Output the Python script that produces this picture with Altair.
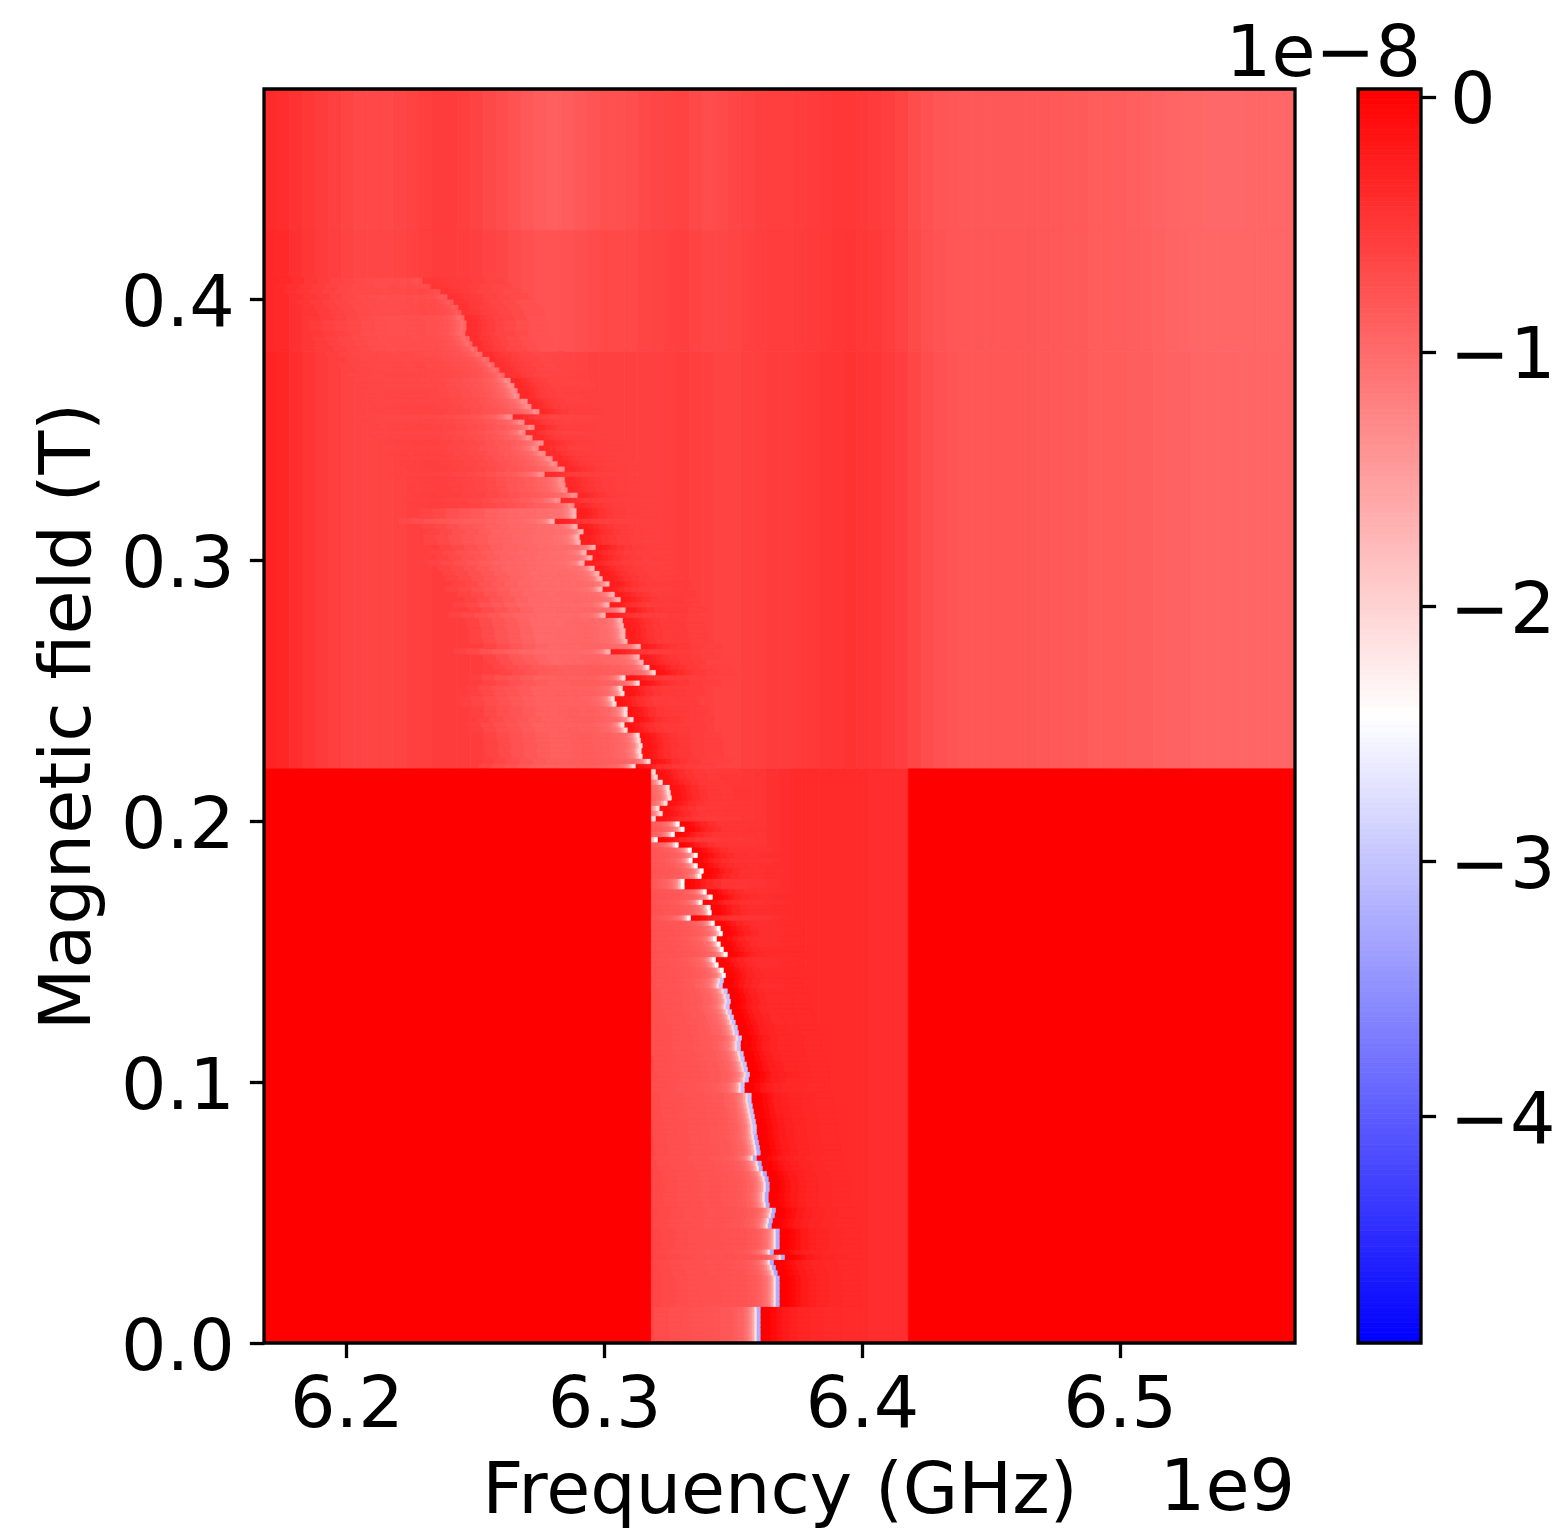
import altair as alt
import pandas as pd
import numpy as np

FONT = "DejaVu Sans"
FS = 71.6
FREQ_DOMAIN = [6.168, 6.568]
FIELD_DOMAIN = [0.0, 0.4805]
COLOR_DOMAIN = [-4.89, -2.43, 0.03]
STRIP_MHZ = 5.0
ROW_T = 0.002
START_MHZ = 6168.0

# Background level per 5 MHz frequency strip (units of 1e-8), 0.4265 T and above
base_top = [-.38,-.40,-.45,-.50,-.55,-.59,-.63,-.66,-.66,-.66,-.65,-.61,-.57,-.55,-.55,-.57,-.61,-.66,-.70,-.76,
            -.82,-.87,-.89,-.87,-.82,-.78,-.74,-.74,-.72,-.67,-.65,-.63,-.61,-.66,-.70,-.68,-.65,-.61,-.59,-.57,
            -.57,-.56,-.54,-.52,-.50,-.50,-.52,-.54,-.58,-.63,-.70,-.75,-.79,-.81,-.82,-.82,-.82,-.82,-.82,-.82,
            -.82,-.82,-.84,-.84,-.86,-.86,-.87,-.89,-.90,-.92,-.94,-.95,-.96,-.97,-.97,-.97,-.96,-.96,-.95,-.95]
# Same strips, 0.38 T to 0.4265 T
base_upper = [-.35,-.37,-.43,-.49,-.54,-.58,-.62,-.65,-.65,-.65,-.63,-.60,-.57,-.55,-.55,-.56,-.58,-.62,-.65,-.69,
              -.73,-.76,-.77,-.75,-.72,-.69,-.67,-.67,-.66,-.63,-.62,-.60,-.58,-.62,-.65,-.65,-.63,-.60,-.58,-.56,
              -.56,-.55,-.53,-.51,-.49,-.48,-.50,-.52,-.56,-.61,-.68,-.73,-.77,-.80,-.81,-.81,-.81,-.81,-.81,-.81,
              -.82,-.82,-.84,-.84,-.86,-.86,-.87,-.88,-.89,-.91,-.93,-.94,-.95,-.96,-.96,-.96,-.95,-.95,-.95,-.95]
# Same strips, 0.22 T to 0.38 T
base_mid = [-.31,-.34,-.40,-.47,-.53,-.57,-.61,-.63,-.63,-.63,-.61,-.59,-.57,-.55,-.55,-.55,-.55,-.57,-.59,-.61,
            -.63,-.65,-.65,-.63,-.61,-.59,-.59,-.59,-.59,-.59,-.59,-.57,-.55,-.57,-.59,-.61,-.61,-.59,-.57,-.55,
            -.55,-.53,-.51,-.49,-.47,-.45,-.47,-.49,-.53,-.58,-.65,-.71,-.75,-.78,-.80,-.80,-.80,-.80,-.80,-.80,
            -.82,-.82,-.84,-.84,-.86,-.86,-.86,-.88,-.88,-.90,-.92,-.92,-.94,-.94,-.94,-.94,-.94,-.94,-.94,-.94]
# Below 0.22 T, only the strips from 6.318 to 6.418 GHz were measured
base_low = [-.55,-.55,-.55,-.55,-.55,-.53,-.51,-.49,-.47,-.43,-.40,-.38,-.38,-.38,-.38,-.38,-.38,-.40,-.40,-.41]
low_first_strip = 30
unmeasured_level = 0.03

# Resonance frequency per 0.002 T field row, from 0 T upward (MHz)
ridge_mhz = (
    [6359.9]*7 + [6367.3]*6 +
    [6366.5,6365.8,6365.0,6369.3,6365.0,6367.3,6367.3,6367.3,6367.3,6364.2,6364.6,6365.4,6365.8,6363.4,6363.0,
     6363.0,6363.4,6363.4,6363.0,6362.3,6360.7,6360.3,6358.4,6359.9,6359.6,6359.2,6358.8,6358.4,6358.4,6358.0,
     6357.6,6357.2,6356.8,6356.4,6356.4,6353.7,6353.7,6355.3,6355.7,6354.9,6354.5,6353.7,6353.3,
     6352.2,6352.2,6352.6,6351.4,6351.0,6350.2,6349.5,6348.7,6347.9,6348.3,6347.9,6347.1,6345.2,6345.6,6346.4,
     6345.6,6343.6,6342.5,6347.1,6345.6,6344.4,6342.9,6345.2,6344.4,6342.1,6332.8,6340.9,6340.5,6337.4,6341.3,
     6339.0,6330.4,6330.4,6337.0,6337.8,6335.5,6333.5,6335.5,6333.2,6328.1,6320.0,6326.6,6330.4,6328.5,6319.2,
     6321.9,6320.7,6323.8,6325.4,6325.0,6324.6,6321.9,6320.0,6319.2,
     6311.4,6317.2,6314.1,6313.7,6314.1,6313.4,6313.0,6308.3,6307.1,6310.6,6308.3,6308.3,6304.0,6303.3,6307.1,
     6306.4,6313.0,6307.5,6319.2,6316.8,6314.5,6313.0,6301.7,6313.4,6308.3,6307.5,6307.5,6306.8,6306.4,
     6299.8,6307.5,6301.3,6305.6,6303.3,6298.6,6301.3,6298.6,6297.4,6295.5,6291.6,6294.7,6292.4,6295.9,6290.1,
     6289.7,6291.2,6288.9,6280.0,6288.5,6288.5,6287.7,6282.3,6288.9,6285.0,6284.2,6283.9,6276.1,6283.9,
     6281.1,6279.2,6276.5,6273.8,6275.7,6271.4,6268.7,6272.2,6268.3,6263.7,6274.1,6271.0,6269.5,6266.4,6265.6,
     6264.4,6262.9,6260.6,6258.6,6256.7,6254.7,6252.0,6250.1,6248.1,6247.0,6245.4,6245.8,6245.8,6245.0,6243.9,
     6242.7,6240.8,6238.4,6235.7,6231.8,6228.7]
)

# Ridge appearance per range of field rows
band_first_row = [0, 40, 70, 100, 130, 160, 185, 197, 201]
band_peak      = [-3.2, -3.0, -2.4, -2.1, -1.7, -1.3, -0.95, -0.8, -0.72]
band_plateau   = [.5, .5, .55, .7, .95, .9, .7, .45, .25]
band_shape     = [0, 0, 0, 0, 0, 1, 1, 1, 1]
band_dip       = [1.0, 1.0, .9, .7, .55, .4, .25, .15, .1]

# Line shape, by distance from the resonance (MHz)
left_edges = [.6,1.5,2.5,3.5,4.5,5.5,6.5,8,10,12,15,18,22,26,30,35,40,45,50,55,60]
left_peak = [.55,.35,.24,.18,.14,.11,.09,.07,.05,.04,.03,.02,.015,.01,.005,0,0,0,0,0]
left_plateau_broad = [.34,.34,.34,.34,.34,.34,.34,.34,.34,.34,.34,.34,.34,.34,.34,.30,.25,.20,.13,.06]
left_plateau_narrow = [.40,.38,.36,.34,.32,.30,.28,.26,.24,.22,.20,.18,.15,.12,.10,.07,.05,.03,.02,.01]
left_plateaus = [left_plateau_broad, left_plateau_narrow]
right_edges = [.6,1.5,2.5,3.5,5,7,9,12,15,20,25,32]
right_dip = [1,1,1,.95,.8,.6,.4,.25,.12,.05,.02]

colorbar_ticks = [0, -1, -2, -3, -4]
freq_ticks = [6.2, 6.3, 6.4, 6.5]
field_ticks = [0.0, 0.1, 0.2, 0.3, 0.4]


def strip_index(mhz):
    return int(np.clip((mhz - START_MHZ) // STRIP_MHZ, 0, len(base_mid) - 1))


def level(mhz, row):
    k = strip_index(mhz)
    if row < 110:
        return base_low[int(np.clip(k - low_first_strip, 0, len(base_low) - 1))]
    return base_upper[k] if row >= 190 else base_mid[k]


# Background table
cells = []
for k in range(len(base_top)):
    x0 = (START_MHZ + k * STRIP_MHZ) / 1000
    x1 = x0 + STRIP_MHZ / 1000
    cells.append((x0, x1, 0.22, 0.38, base_mid[k]))
    cells.append((x0, x1, 0.38, 0.4265, base_upper[k]))
    cells.append((x0, x1, 0.4265, FIELD_DOMAIN[1], base_top[k]))
for j, v in enumerate(base_low):
    x0 = (START_MHZ + (low_first_strip + j) * STRIP_MHZ) / 1000
    cells.append((x0, x0 + STRIP_MHZ / 1000, 0.0, 0.22, v))

# Resonance table
for row, r in enumerate(ridge_mhz):
    b_i = int(np.searchsorted(band_first_row, row, side="right") - 1)
    y0, y1 = row * ROW_T, (row + 1) * ROW_T
    plateau = left_plateaus[band_shape[b_i]]
    for j in range(len(right_dip)):
        a, c = r + right_edges[j], r + right_edges[j + 1]
        b = level((a + c) / 2, row)
        v = b + (unmeasured_level - b) * right_dip[j] * band_dip[b_i]
        cells.append((a / 1000, c / 1000, y0, y1, v))
    for j in range(len(left_peak) - 1, -1, -1):
        a, c = r - left_edges[j + 1], r - left_edges[j]
        if row < 110 and c < 6318:
            continue
        b = level((a + c) / 2, row)
        v = b - plateau[j] * band_plateau[b_i] + (band_peak[b_i] - b) * left_peak[j]
        cells.append((max(a, START_MHZ) / 1000, c / 1000, y0, y1, v))
    cells.append(((r - .6) / 1000, (r + .6) / 1000, y0, y1, band_peak[b_i]))

heat = pd.DataFrame(cells, columns=["x0", "x1", "y0", "y1", "v"])
heat = heat.round(5)
blocks = pd.DataFrame({"x0": [6.168, 6.418], "x1": [6.318, 6.568], "y0": [0.0, 0.0],
                       "y1": [0.22, 0.22], "v": [unmeasured_level, unmeasured_level]})
frame = pd.DataFrame({"x0": [FREQ_DOMAIN[0]], "x1": [FREQ_DOMAIN[1]], "y0": [FIELD_DOMAIN[0]], "y1": [FIELD_DOMAIN[1]]})

color_scale = alt.Scale(domain=COLOR_DOMAIN, range=["#0000ff", "#ffffff", "#ff0000"], clamp=True, interpolate="rgb")
x_scale = alt.Scale(domain=FREQ_DOMAIN, nice=False, zero=False)
y_scale = alt.Scale(domain=FIELD_DOMAIN, nice=False, zero=False)

x_enc = alt.X("x0:Q", scale=x_scale, axis=alt.Axis(values=freq_ticks, format=".1f", title="Frequency (GHz)",
                                                   titlePadding=14, labelPadding=12))
y_enc = alt.Y("y0:Q", scale=y_scale, axis=alt.Axis(values=field_ticks, format=".1f", title="Magnetic field (T)",
                                                   titlePadding=16, labelPadding=15, labelOffset=5))


def rects(df, stroke_w=0.8):
    return alt.Chart(df).mark_rect(strokeWidth=stroke_w).encode(
        x=x_enc, x2="x1:Q", y=y_enc, y2="y1:Q",
        color=alt.Color("v:Q", scale=color_scale, legend=None),
        stroke=alt.Stroke("v:Q", scale=color_scale, legend=None),
    )


border = alt.Chart(frame).mark_rect(filled=False, stroke="black", strokeWidth=3.3).encode(
    x=x_enc, x2="x1:Q", y=y_enc, y2="y1:Q")
offset_df = pd.DataFrame({"label": ["1e9"]})
offset_text = alt.Chart(offset_df).mark_text(font=FONT, fontSize=FS, align="right", baseline="middle", color="black").encode(
    text="label:N", x=alt.value(1031), y=alt.value(1400))

main = alt.layer(rects(heat), rects(blocks), border, offset_text).properties(width=1031, height=1254)

# Colour bar
bar_levels = np.linspace(COLOR_DOMAIN[0], COLOR_DOMAIN[2], 247)
bar = pd.DataFrame({"y0": bar_levels[:-1], "y1": bar_levels[1:], "v": (bar_levels[:-1] + bar_levels[1:]) / 2}).round(5)
bar_scale = alt.Scale(domain=[COLOR_DOMAIN[0], COLOR_DOMAIN[2]], nice=False, zero=False)
bar_y = alt.Y("y0:Q", scale=bar_scale, axis=alt.Axis(values=colorbar_ticks, format="d", orient="right", title=None,
                                                     labelPadding=14, labelOffset=5))
bar_rects = alt.Chart(bar).mark_rect(strokeWidth=0.8).encode(
    y=bar_y, y2="y1:Q",
    color=alt.Color("v:Q", scale=color_scale, legend=None),
    stroke=alt.Stroke("v:Q", scale=color_scale, legend=None),
)
bar_frame = alt.Chart(pd.DataFrame({"y0": [COLOR_DOMAIN[0]], "y1": [COLOR_DOMAIN[2]]})).mark_rect(
    filled=False, stroke="black", strokeWidth=3.3).encode(y=bar_y, y2="y1:Q")
exp_text = alt.Chart(pd.DataFrame({"label": ["1e\u22128"]})).mark_text(
    font=FONT, fontSize=FS, align="right", baseline="alphabetic", color="black").encode(
    text="label:N", x=alt.value(63), y=alt.value(-13))
colorbar = alt.layer(bar_rects, bar_frame, exp_text).properties(width=63, height=1254)

chart = alt.hconcat(main, colorbar, spacing=63, bounds="flush").properties(
    autosize=alt.AutoSizeParams(type="none"),
    padding={"left": 256, "top": 81, "right": 1292, "bottom": 1439}
).configure_axis(
    labelFont=FONT, titleFont=FONT, labelFontSize=FS, titleFontSize=FS, titleFontWeight="normal",
    labelColor="black", titleColor="black", tickColor="black", tickSize=14.6, tickWidth=3.3,
    domain=False, grid=False, labelFlush=False, labelOverlap=False,
).configure_view(stroke=None)

chart.save("out.html", embed_options={"renderer": "svg", "actions": False})
